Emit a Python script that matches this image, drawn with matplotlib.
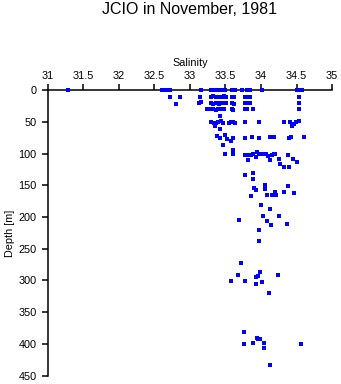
import numpy as np
import matplotlib.pyplot as plt

plt.rcParams['font.family'] = ['Liberation Sans', 'DejaVu Sans']

# bottle samples: salinity and depth [m], grouped by layer
sal_0 = [31.29, 32.61, 32.66, 32.72, 33.15, 33.30, 33.33, 33.36, 33.38, 33.41, 33.44, 33.47, 33.50,
         33.59, 33.62, 33.64, 33.73, 33.80, 33.83, 33.85, 34.02, 34.51, 34.54, 34.57]
dep_0 = [0] * len(sal_0)

sal_10 = [32.72, 32.86, 33.14, 33.30, 33.33, 33.36, 33.39, 33.42, 33.45, 33.48, 33.51,
          33.59, 33.62, 33.77, 33.80, 33.84, 34.54]
dep_10 = [10, 10, 10, 10, 9, 10, 11, 10, 10, 9, 10, 10, 11, 10, 10, 10, 10]

sal_20 = [32.80, 33.13, 33.16, 33.30, 33.33, 33.36, 33.39, 33.41, 33.44, 33.47, 33.51,
          33.59, 33.62, 33.77, 33.80, 33.84, 34.54]
dep_20 = [21, 20, 19, 20, 21, 20, 20, 21, 20, 20, 20, 20, 21, 20, 20, 20, 20]

sal_30 = [33.24, 33.30, 33.33, 33.36, 33.39, 33.42, 33.45, 33.48, 33.59, 33.61, 33.77, 33.80,
          33.89, 34.54, 33.42]
dep_30 = [30, 30, 30, 31, 30, 29, 30, 30, 30, 31, 30, 30, 30, 30, 40]

sal_50 = [33.29, 33.34, 33.37, 33.40, 33.43, 33.46, 33.55, 33.58, 33.61, 33.64, 33.78, 33.97,
          34.33, 34.41, 34.43, 34.46, 34.49, 34.53, 33.35, 33.42]
dep_50 = [50, 52, 51, 50, 49, 51, 52, 50, 50, 51, 50, 50, 50, 50, 56, 53, 50, 49, 56, 61]

sal_75 = [33.38, 33.42, 33.50, 33.52, 33.58, 33.61, 33.78, 33.87, 33.97, 34.12, 34.18, 34.39,
          34.42, 34.60, 33.46]
dep_75 = [72, 75, 70, 77, 80, 75, 75, 73, 75, 73, 73, 75, 73, 73, 87]

sal_100 = [33.60, 33.50, 33.60, 33.78, 33.82, 33.86, 33.88, 33.95, 33.97, 34.02, 34.07, 34.10,
           34.15, 34.18, 34.20, 34.38, 33.93, 33.82, 34.12, 34.25, 34.45, 34.50, 34.27, 34.33,
           34.40]
dep_100 = [95, 100, 100, 102, 102, 102, 100, 97, 100, 100, 100, 103, 102, 100, 100, 102, 106,
           110, 110, 108, 108, 113, 117, 121, 121]

sal_150 = [33.78, 33.88, 33.88, 34.05, 34.38, 33.90, 33.93, 34.05, 34.20, 34.32, 34.46, 34.08,
           34.15, 34.21, 33.86, 34.00, 34.12, 34.03, 34.25]
dep_150 = [133, 131, 140, 149, 151, 154, 158, 156, 160, 160, 162, 165, 166, 165, 167, 181, 187,
           198, 199]

sal_200 = [33.69, 34.08, 34.14, 34.37, 33.97, 33.97]
dep_200 = [205, 206, 213, 211, 220, 237]

sal_300 = [33.72, 33.98, 33.67, 34.24, 33.96, 33.93, 33.58, 33.78, 34.01, 33.93, 34.11]
dep_300 = [273, 286, 292, 292, 293, 295, 301, 301, 302, 306, 320]

sal_400 = [33.76, 33.76, 33.88, 33.94, 33.96, 33.98, 34.04, 34.04, 34.56, 34.12]
dep_400 = [382, 400, 399, 390, 393, 393, 399, 406, 401, 434]

salinity = np.concatenate([sal_0, sal_10, sal_20, sal_30, sal_50, sal_75, sal_100, sal_150,
                           sal_200, sal_300, sal_400])
depth = np.concatenate([dep_0, dep_10, dep_20, dep_30, dep_50, dep_75, dep_100, dep_150,
                        dep_200, dep_300, dep_400])

fig = plt.figure(figsize=(3.41, 3.84), dpi=100)
ax = fig.add_axes([0.14, 0.022, 0.834, 0.743])

ax.plot(salinity, depth, 's', color='#0000ff', markersize=2.3, markeredgewidth=0,
        clip_on=False, zorder=5)

ax.set_xlim(31, 35)
ax.set_ylim(450, 0)
ax.set_xticks(np.arange(31, 35.01, 0.5))
ax.set_xticklabels(['31', '31.5', '32', '32.5', '33', '33.5', '34', '34.5', '35'])
ax.set_yticks(np.arange(0, 451, 50))

ax.xaxis.set_ticks_position('top')
ax.xaxis.set_label_position('top')
ax.spines['right'].set_visible(False)
ax.spines['bottom'].set_visible(False)
ax.spines['top'].set_linewidth(1.1)
ax.spines['left'].set_linewidth(1.1)
ax.tick_params(axis='x', direction='out', length=4, width=1.1, pad=3, labelsize=7.8)
ax.tick_params(axis='y', direction='out', length=4, width=1.1, pad=4, labelsize=7.8)

ax.set_xlabel('Salinity', fontsize=7.8, labelpad=3)
ax.set_ylabel('Depth [m]', fontsize=7.8, labelpad=0)
ax.yaxis.set_label_coords(-0.115, 0.5)

fig.text(0.557, 1 - 9 / 384, 'JCIO in November, 1981', ha='center', va='center', fontsize=11.5)

fig.savefig('out.png', dpi=100)
